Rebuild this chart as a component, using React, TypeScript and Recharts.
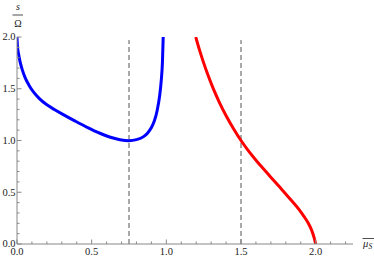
import React from 'react';
import { LineChart, Line, XAxis, YAxis, ReferenceLine } from 'recharts';

// lower branch (blue)
const blueX = [0, 0.003, 0.01, 0.02, 0.035, 0.055, 0.08, 0.11, 0.15, 0.2, 0.25, 0.31, 0.39, 0.47, 0.555, 0.62, 0.689, 0.75, 0.8, 0.85, 0.875, 0.9, 0.92, 0.94, 0.955, 0.966, 0.974, 0.979];
const blueY = [2.0, 1.91, 1.84, 1.765, 1.685, 1.605, 1.535, 1.47, 1.405, 1.345, 1.3, 1.25, 1.187, 1.127, 1.07, 1.034, 1.008, 0.998, 1.008, 1.04, 1.072, 1.125, 1.19, 1.3, 1.43, 1.58, 1.76, 2.0];

// upper branch (red)
const redX = [1.197, 1.222, 1.246, 1.28, 1.313, 1.355, 1.403, 1.45, 1.5, 1.55, 1.603, 1.65, 1.692, 1.759, 1.826, 1.893, 1.92, 1.949, 1.975, 1.99, 2.0];
const redY = [2.0, 1.875, 1.767, 1.628, 1.506, 1.369, 1.232, 1.114, 1.0, 0.9, 0.805, 0.726, 0.658, 0.55, 0.44, 0.325, 0.27, 0.205, 0.125, 0.06, 0.0];

const dashedAt = [0.75, 1.5];

const majorX = [0, 0.5, 1, 1.5, 2];
const majorY = [0, 0.5, 1, 1.5, 2];
const minorX = [0, 0.1, 0.2, 0.3, 0.4, 0.5, 0.6, 0.7, 0.8, 0.9, 1, 1.1, 1.2, 1.3, 1.4, 1.5, 1.6, 1.7, 1.8, 1.9, 2, 2.1, 2.2];
const minorY = [0, 0.1, 0.2, 0.3, 0.4, 0.5, 0.6, 0.7, 0.8, 0.9, 1, 1.1, 1.2, 1.3, 1.4, 1.5, 1.6, 1.7, 1.8, 1.9, 2];

const blueData = blueX.map((x, i) => ({ x, y: blueY[i] }));
const redData = redX.map((x, i) => ({ x, y: redY[i] }));

const font = 'Liberation Serif';
const axisGray = '#888';

const isMajor = (v: number, majors: number[]) => majors.some((m) => Math.abs(m - v) < 1e-6);

const XTick = (props: any) => {
    const { x, y, payload } = props;
    const major = isMajor(payload.value, majorX);
    return (
        <g>
            <line x1={x} x2={x} y1={y} y2={y - (major ? 4.5 : 2.5)} stroke={axisGray} strokeWidth={1} />
            {major && (
                <text x={x} y={y + 10.8} textAnchor="middle" fontSize={10.5} fontFamily={font} fill="#222">
                    {payload.value.toFixed(1)}
                </text>
            )}
        </g>
    );
};

const YTick = (props: any) => {
    const { x, y, payload } = props;
    const major = isMajor(payload.value, majorY);
    return (
        <g>
            <line x1={x} x2={x + (major ? 4.5 : 2.5)} y1={y} y2={y} stroke={axisGray} strokeWidth={1} />
            {major && (
                <text x={x - 1.5} y={y + 3.3} textAnchor="end" fontSize={10.5} fontFamily={font} fill="#222">
                    {payload.value.toFixed(1)}
                </text>
            )}
        </g>
    );
};

export default function App() {
    return (
        <div style={{ position: 'absolute', left: 0, top: 0, width: 374, height: 261, background: '#fff', fontFamily: font }}>
            <LineChart width={374} height={261} margin={{ top: 37, right: 21, left: 0, bottom: 0 }}>
                <XAxis
                    type="number"
                    dataKey="x"
                    domain={[0, 2.25]}
                    ticks={minorX}
                    interval={0}
                    height={17}
                    tickSize={0}
                    tickMargin={0}
                    tick={XTick}
                    stroke={axisGray}
                    allowDataOverflow
                />
                <YAxis
                    type="number"
                    dataKey="y"
                    domain={[0, 2]}
                    ticks={minorY}
                    interval={0}
                    width={17}
                    tickSize={0}
                    tickMargin={0}
                    tick={YTick}
                    stroke={axisGray}
                    allowDataOverflow
                />
                {dashedAt.map((v) => (
                    <ReferenceLine
                        key={v}
                        segment={[{ x: v, y: 0 }, { x: v, y: 1.97 }]}
                        stroke="#555"
                        strokeWidth={1}
                        strokeDasharray="5 3"
                    />
                ))}
                <Line data={blueData} dataKey="y" type="monotone" stroke="#0000ff" strokeWidth={3} dot={false} isAnimationActive={false} />
                <Line data={redData} dataKey="y" type="monotone" stroke="#ff0000" strokeWidth={3} dot={false} isAnimationActive={false} />
            </LineChart>
            <svg width={374} height={261} style={{ position: 'absolute', left: 0, top: 0, pointerEvents: 'none' }}>
                <text x={18} y={10} textAnchor="middle" fontSize={10} fontStyle="italic" fontFamily={font} fill="#222">s</text>
                <line x1={12.5} x2={23} y1={15} y2={15} stroke="#222" strokeWidth={0.8} />
                <text x={18} y={27} textAnchor="middle" fontSize={10} fontFamily={font} fill="#222">Ω</text>
                <line x1={362.5} x2={374} y1={238.5} y2={238.5} stroke="#222" strokeWidth={0.8} />
                <text x={363} y={247} fontSize={10.5} fontStyle="italic" fontFamily={font} fill="#222">μ</text>
                <text x={368.5} y={249} fontSize={7.5} fontStyle="italic" fontFamily={font} fill="#222">S</text>
            </svg>
        </div>
    );
}
